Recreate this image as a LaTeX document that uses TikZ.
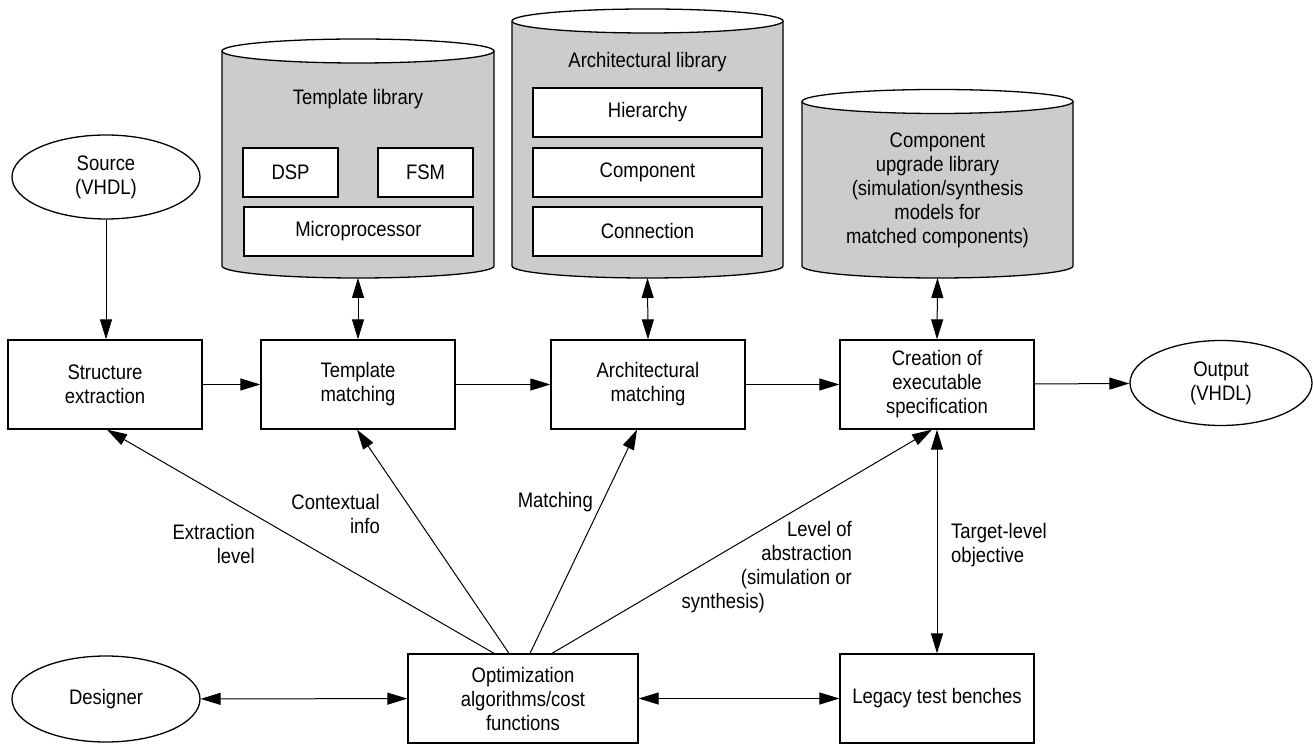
\documentclass[tikz,border=0pt]{standalone}
\usepackage{fontspec}
\setmainfont{Liberation Sans}[FakeStretch=0.88]
\usetikzlibrary{arrows.meta,shapes.geometric,calc}
\definecolor{libgray}{RGB}{204,204,204}

\tikzset{
  box/.style={draw, line width=1.3pt, minimum width=194pt, minimum height=89pt, align=center, inner sep=0pt},
  inbox/.style={draw, fill=white, line width=1.3pt, minimum height=49pt, inner sep=0pt},
  oval/.style={draw, ellipse, line width=1.3pt, align=center, inner sep=0pt},
  link/.style={line width=1pt, -{Triangle[length=20pt,width=12pt]}},
  biline/.style={line width=1pt, {Triangle[length=20pt,width=12pt]}-{Triangle[length=20pt,width=12pt]}},
  lbl/.style={inner sep=0pt},
  cylout/.style={line width=1.3pt},
}

% library drum: name, centre x, x radius, y of top rim, y of bottom rim
\newcommand\libcyl[5]{%
  \fill[libgray] (#2-#3,#4) -- (#2-#3,#5)
      arc[start angle=180, end angle=360, x radius=#3, y radius=12]
      -- (#2+#3,#4) -- cycle;
  \draw[cylout] (#2-#3,#4) -- (#2-#3,#5)
      arc[start angle=180, end angle=360, x radius=#3, y radius=12]
      -- (#2+#3,#4);
  \filldraw[cylout, fill=white] (#2,#4) ellipse[x radius=#3, y radius=12];
  \node[inner sep=0pt, outer sep=0pt, minimum width=2*#3 pt, minimum height=#4-#5+24 pt]
      (#1) at (#2,{(#4+#5)/2}) {};
}

\begin{document}
\begin{tikzpicture}[x=1pt, y=1pt, font=\fontsize{21}{24}\selectfont]
\useasboundingbox (0,0) rectangle (1313,744);

% libraries
\libcyl{tlib}{358}{136}{693}{478}
\libcyl{alib}{647.5}{135.5}{723}{478}
\libcyl{clib}{937.5}{135.5}{642.5}{478}

\node (tlibname) at (358,645) {Template library};
\node[inbox, minimum width=95pt] (dsp) at (290.5,571.5) {DSP};
\node[inbox, minimum width=95pt] (fsm) at (425.5,571.5) {FSM};
\node[inbox, minimum width=229pt] (mproc) at (358.5,512.5) {Microprocessor};

\node (alibname) at (647.5,682) {Architectural library};
\node[inbox, minimum width=229pt] (hier) at (647.5,631.5) {Hierarchy};
\node[inbox, minimum width=229pt] (comp) at (647.5,571.5) {Component};
\node[inbox, minimum width=229pt] (conn) at (647.5,512.5) {Connection};

\node[align=center] (clibname) at (937.5,554)
  {Component\\upgrade library\\(simulation/synthesis\\models for\\matched components)};

% flow
\node[oval, minimum width=188pt, minimum height=84pt] (src) at (106,567) {Source\\(VHDL)};
\node[box] (st) at (105,359.5) {Structure\\extraction};
\node[box] (tm) at (358,359.5) {Template\\matching};
\node[box] (am) at (648,359.5) {Architectural\\matching};
\node[box] (cr) at (937,359.5) {Creation of\\executable\\specification};
\node[oval, minimum width=182pt, minimum height=85pt] (out) at (1221,361) {Output\\(VHDL)};

\node[oval, minimum width=188pt, minimum height=86pt] (des) at (106,45) {Designer};
\node[box, minimum width=230pt] (opt) at (523,45.5) {Optimization\\algorithms/cost\\functions};
\node[box] (leg) at (937,45.5) {Legacy test benches};

% connectors
\draw[link] (src.south) -- (src.south |- st.north);
\draw[biline] (tlib.south) -- (tm.north);
\draw[biline] (alib.south) -- (am.north);
\draw[biline] (clib.south) -- (cr.north);
\draw[link] (st) -- (tm);
\draw[link] (tm) -- (am);
\draw[link] (am) -- (cr);
\draw[link] (cr) -- (out);
\draw[biline] (des) -- (opt);
\draw[biline] (opt) -- (leg);
\draw[biline] (cr.south) -- (leg.north);

\draw[link] ([xshift=-29pt]opt.north) -- ([xshift=2pt]st.south);
\draw[link] ([xshift=-14pt]opt.north) -- ([xshift=-1pt]tm.south);
\draw[link] ([xshift=7pt]opt.north) -- ([xshift=-11pt]am.south);
\draw[link] ([xshift=29pt]opt.north) -- ([xshift=-5pt]cr.south);

% connector labels
\node[lbl, anchor=east, align=right] (lext) at (255,200) {Extraction\\level};
\node[lbl, anchor=east, align=right] (lctx) at (380,230) {Contextual\\info};
\node[lbl, anchor=east] (lmat) at (593,242) {Matching};
\node[lbl, anchor=east, align=right] (labs) at (852,176.5)
  {Level of\\abstraction\hspace*{15pt}\\(simulation or\hspace*{22pt}\\synthesis)\hspace*{87pt}};
\node[lbl, anchor=west, align=left] (ltgt) at (951,199) {Target-level\\objective};
\end{tikzpicture}
\end{document}
